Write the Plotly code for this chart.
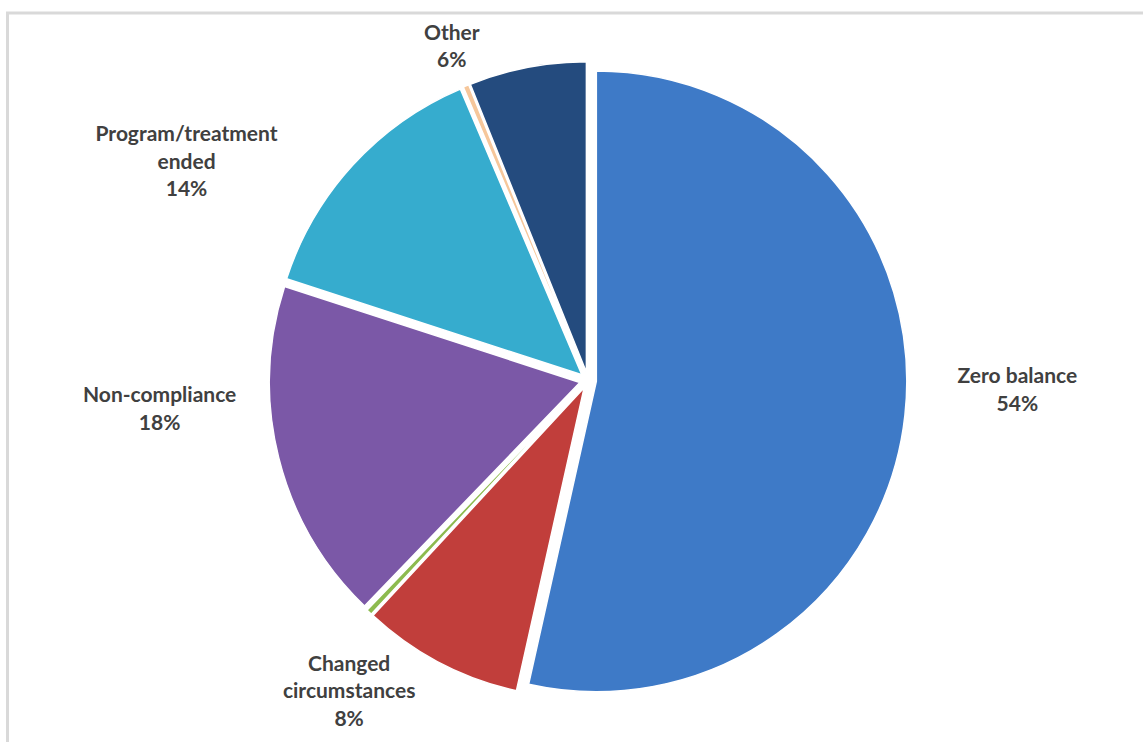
import plotly.graph_objects as go

categories = ["Zero balance", "Changed circumstances", "Minor A", "Non-compliance",
              "Program/treatment ended", "Minor B", "Other"]
values = [53.5, 8.4, 0.3, 17.8, 13.6, 0.3, 6.1]
label_text = ["Zero balance<br>%{percent:.0%}",
              "Changed<br>circumstances<br>%{percent:.0%}",
              "",
              "Non-compliance<br>%{percent:.0%}",
              "Program/treatment<br>ended<br>%{percent:.0%}",
              "",
              "Other<br>%{percent:.0%}"]
colors = ["#3e7ac7", "#c13e3b", "#8dbb4f", "#7b58a7", "#36acce", "#f6c79b", "#244b7e"]

W, H = 1143, 742
cx, cy = 588, 383
r_pie = 321
# label placement (rotation nudge in degrees, label radius in px), like Excel's best fit
label_place = {
    "Zero balance": (-5.0, 359),
    "Changed circumstances": (1, 320),
    "Non-compliance": (9.5, 342),
    "Program/treatment ended": (-7, 359),
    "Other": (-6.0, 328),
}

def dom(r):
    return dict(x=[max(0, (cx - r) / W), min(1, (cx + r) / W)],
                y=[max(0, (H - cy - r) / H), min(1, (H - cy + r) / H)])

label_font = dict(family="Lato", size=21, color="#404040", weight="bold")

fig = go.Figure()
fig.add_trace(go.Pie(
    labels=categories, values=values, sort=False, direction="clockwise", rotation=0,
    marker=dict(colors=colors, line=dict(color="white", width=1.5)),
    pull=0.027, textinfo="none", hoverinfo="label+percent",
    domain=dom(r_pie), showlegend=False,
))
for name, (rot, r) in label_place.items():
    txt = [t if c == name else "" for t, c in zip(label_text, categories)]
    fig.add_trace(go.Pie(
        labels=categories, values=values, sort=False, direction="clockwise", rotation=rot,
        marker=dict(colors=["rgba(0,0,0,0)"] * len(values), line=dict(width=0)),
        texttemplate=txt, textposition="outside", outsidetextfont=label_font,
        hoverinfo="skip", domain=dom(r), showlegend=False,
    ))
fig.add_shape(type="rect", xref="paper", yref="paper",
              x0=7.5 / W, x1=1.05, y0=-0.05, y1=1 - 13 / H,
              line=dict(color="#d9d9d9", width=3), layer="below")
fig.update_layout(width=W, height=H, margin=dict(l=0, r=0, t=0, b=0),
                  paper_bgcolor="white", plot_bgcolor="white")
fig.write_html("out.html")
